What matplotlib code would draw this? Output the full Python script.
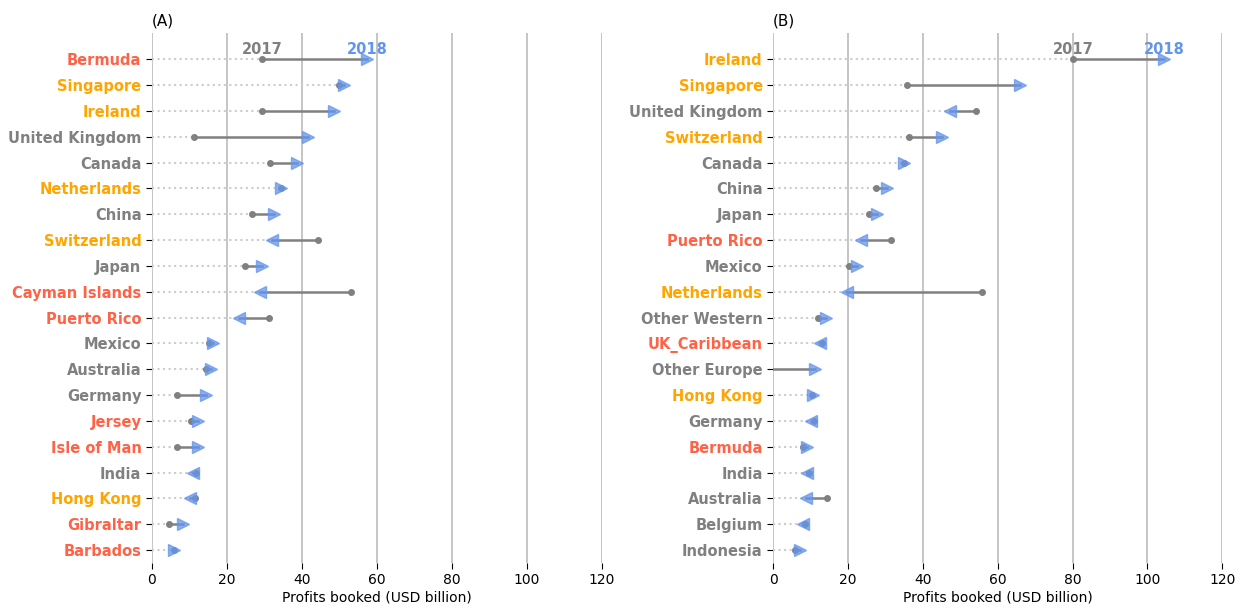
import matplotlib.pyplot as plt

plt.rcParams['font.family'] = ['DejaVu Sans']

# panel A
countries_a = ["Bermuda", "Singapore", "Ireland", "United Kingdom", "Canada",
               "Netherlands", "China", "Switzerland", "Japan", "Cayman Islands",
               "Puerto Rico", "Mexico", "Australia", "Germany", "Jersey",
               "Isle of Man", "India", "Hong Kong", "Gibraltar", "Barbados"]
y2017_a = [29.3, 50.0, 29.3, 11.2, 31.5, 34.4, 26.7, 44.3, 24.8, 53.1,
           31.2, 15.2, 14.5, 6.7, 10.4, 6.7, 11.8, 11.4, 4.5, 5.9]
y2018_a = [57.5, 51.2, 48.5, 41.6, 38.7, 34.4, 32.5, 32.0, 29.3, 28.8,
           23.2, 16.3, 15.7, 14.4, 12.3, 12.3, 10.9, 10.1, 8.3, 5.9]

# panel B
countries_b = ["Ireland", "Singapore", "United Kingdom", "Switzerland", "Canada",
               "China", "Japan", "Puerto Rico", "Mexico", "Netherlands",
               "Other Western", "UK_Caribbean", "Other Europe", "Hong Kong",
               "Germany", "Bermuda", "India", "Australia", "Belgium", "Indonesia"]
y2017_b = [80.2, 35.8, 54.3, 36.3, 35.0, 27.6, 25.5, 31.4, 20.4, 55.8,
           12.0, 13.1, -1.5, 10.3, 10.9, 8.1, 9.7, 14.4, 8.5, 5.8]
y2018_b = [104.5, 66.0, 47.3, 45.2, 35.0, 30.4, 27.8, 23.6, 22.5, 19.8,
           14.0, 12.5, 11.1, 10.6, 10.2, 9.1, 9.1, 8.8, 7.9, 7.2]

havens_red = ["Bermuda", "Cayman Islands", "Puerto Rico", "Jersey", "Isle of Man",
              "Gibraltar", "Barbados", "UK_Caribbean"]
havens_orange = ["Singapore", "Ireland", "Netherlands", "Switzerland", "Hong Kong"]

RED = "#ff6347"
ORANGE = "#ffa500"
GREY = "#808080"
BLUE = "#6495ed"


def label_color(name):
    if name in havens_red:
        return RED
    if name in havens_orange:
        return ORANGE
    return GREY


def draw_panel(ax, names, v17, v18, title):
    for i, (a, b) in enumerate(zip(v17, v18)):
        lo = min(a, b)
        if lo > 0:
            ax.plot([0, lo], [i, i], ls=":", color="#cccccc", lw=1.5, zorder=2)
        ax.plot([a, b], [i, i], color=GREY, lw=1.8, zorder=3)
        ax.plot(a, i, "o", color=GREY, ms=4, zorder=4)
        ax.plot(b, i, ">" if b >= a else "<", color=BLUE, ms=9,
                alpha=0.75, zorder=5)
    ax.set_yticks(range(len(names)))
    ax.set_yticklabels(names)
    for t, n in zip(ax.get_yticklabels(), names):
        t.set_color(label_color(n))
        t.set_fontweight("bold")
        t.set_fontsize(10.5)
    ax.set_xlim(0, 120)
    ax.set_xticks([0, 20, 40, 60, 80, 100, 120])
    ax.set_ylim(len(names) - 0.5, -1.02)
    ax.grid(axis="x", color="#bbbbbb", lw=1.2)
    ax.set_axisbelow(True)
    for s in ax.spines.values():
        s.set_visible(False)
    ax.tick_params(axis="x", labelsize=10, length=4, pad=3)
    ax.tick_params(axis="y", length=4)
    ax.set_xlabel("Profits booked (USD billion)", fontsize=10, labelpad=3)
    ax.set_title(title, loc="left", fontsize=11, pad=5)
    ax.text(v17[0], -0.1, "2017", color=GREY, fontweight="bold",
            fontsize=10.5, ha="center", va="bottom")
    ax.text(v18[0], -0.1, "2018", color=BLUE, fontweight="bold",
            fontsize=10.5, ha="center", va="bottom")


fig = plt.figure(figsize=(12.45, 6.1), dpi=100)
ax1 = fig.add_axes([0.122, 0.077, 0.3614, 0.869])
ax2 = fig.add_axes([0.621, 0.077, 0.3607, 0.869])

draw_panel(ax1, countries_a, y2017_a, y2018_a, "(A)")
draw_panel(ax2, countries_b, y2017_b, y2018_b, "(B)")

fig.savefig("out.png", dpi=100)
